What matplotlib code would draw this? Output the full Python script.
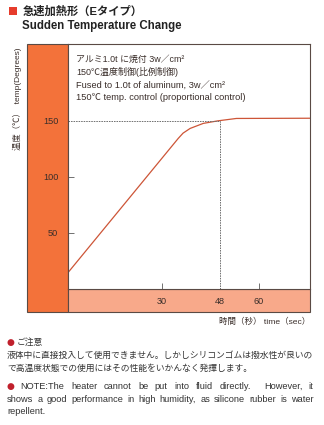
import matplotlib
matplotlib.use('Agg')
import matplotlib.pyplot as plt
from matplotlib.patches import Rectangle

# ---- data ----
time_s = [0.7, 35.0, 36.5, 38.7, 42.8, 47.4, 53.1, 76.0]
temp_c = [14.6, 134.3, 139.0, 143.2, 147.7, 150.0, 152.1, 152.3]
x_ticks = [30, 48, 60]
y_ticks = [50, 100, 150]
target_time = 48
target_temp = 150

FAM = ['Liberation Sans', 'Noto Sans CJK JP']
plt.rcParams['font.family'] = FAM

W, H = 324, 425
fig = plt.figure(figsize=(W / 100, H / 100), dpi=100)
fig.patch.set_facecolor('white')


def fx(x):
    return x / W


def fy(y):
    return 1 - y / H


EDGE = '#5a4a44'
ORANGE = '#f3723a'
SALMON = '#f8a98a'
LINE = '#cd5537'
TXT = '#3a2e2a'

# decorative frame: left orange bar and bottom band
fig.patches.append(Rectangle((fx(27), fy(312)), fx(68) - fx(27), fy(44) - fy(312),
                             transform=fig.transFigure, facecolor=ORANGE,
                             edgecolor=EDGE, lw=0.8, zorder=-1))
fig.patches.append(Rectangle((fx(68), fy(312)), fx(310) - fx(68), fy(289) - fy(312),
                             transform=fig.transFigure, facecolor=SALMON,
                             edgecolor=EDGE, lw=0.8, zorder=-1))

ax = fig.add_axes([fx(68), fy(289), (310 - 68) / W, (289 - 44) / H])
ax.set_xlim(time_s[0], time_s[-1])
ax.set_ylim(0, 218.5)
for s in ax.spines.values():
    s.set_color(EDGE)
    s.set_linewidth(0.8)

ax.plot(time_s, temp_c, color=LINE, lw=0.9, solid_joinstyle='round')
ax.plot([time_s[0], target_time], [target_temp, target_temp], color='#707070',
        lw=0.7, linestyle=(0, (1.6, 1.0)))
ax.plot([target_time, target_time], [0, target_temp], color='#707070',
        lw=0.7, linestyle=(0, (1.6, 1.0)))

ax.set_xticks(x_ticks)
ax.set_yticks(y_ticks)
ax.tick_params(axis='x', direction='in', length=4, width=0.7, color='#707070',
               pad=5.5, labelsize=6.6, labelcolor=TXT)
ax.tick_params(axis='y', direction='in', length=4, width=0.7, color='#707070',
               pad=7, labelsize=6.6, labelcolor=TXT)
ax.xaxis.get_major_ticks()[1].tick1line.set_visible(False)
ax.yaxis.get_major_ticks()[2].tick1line.set_visible(False)

# annotations inside plot
ann = ['アルミ1.0t に焼付 3w／cm²', '150℃温度制御(比例制御)',
       'Fused to 1.0t of aluminum, 3w／cm²', '150℃ temp. control (proportional control)']
ann_size = [6.4, 6.5, 6.7, 6.7]
for s, y, fs in zip(ann, [59.5, 71.5, 86.5, 97], ann_size):
    fig.text(fx(76), fy(y), s, fontsize=fs, color=TXT, va='center', ha='left')

# axis labels
fig.text(fx(17.5), fy(99), '温度（℃）  temp(Degrees)', rotation=90, fontsize=6,
         color=TXT, va='center', ha='center')
fig.text(fx(310), fy(321.7), '時間（秒） time（sec）', fontsize=6.1, color=TXT,
         va='center', ha='right')

# title
fig.patches.append(Rectangle((fx(9), fy(15.3)), fx(17) - fx(9), fy(7.3) - fy(15.3),
                             transform=fig.transFigure, facecolor='#e63c2c',
                             edgecolor='none'))
fig.text(fx(22.5), fy(11.5), '急速加熱形（Eタイプ）', fontsize=8.1, fontweight='bold',
         color='#222222', va='center', ha='left')
fig.text(fx(22.5), fy(26.5), 'Sudden Temperature Change', fontsize=8.3,
         fontweight='bold', color='#222222', va='center', ha='left')

# notes
BUL = '#c0202c'
NT = '#333333'
renderer = fig.canvas.get_renderer()


def natural_width(text, size):
    t = fig.text(0, 0, text, fontsize=size)
    w = t.get_window_extent(renderer).width
    t.remove()
    return w


def justify(text, x0, x1, y, size):
    words = text.split(' ')
    ts = [fig.text(0, fy(y), w, fontsize=size, va='center', ha='left', color=NT)
          for w in words]
    widths = [t.get_window_extent(renderer).width for t in ts]
    gap = (x1 - x0 - sum(widths)) / (len(words) - 1)
    x = x0
    for t, w in zip(ts, widths):
        t.set_x(fx(x))
        x += w + gap


line_a = 'NOTE:The heater cannot be put into fluid directly.  However, it'
line_b = 'shows a good performance in high humidity, as silicone rubber is water'
en_size = 10 * (306.5 * 0.95) / natural_width(line_b, 10)

fig.text(fx(6.5), fy(342), '●', fontsize=6.5, color=BUL, va='center', ha='left',
         family=['DejaVu Sans'])
fig.text(fx(17), fy(342), 'ご注意', fontsize=6.35, color=NT, va='center', ha='left')
fig.text(fx(7), fy(355.7), '液体中に直接投入して使用できません。しかしシリコンゴムは撥水性が良いの',
         fontsize=6.35, color=NT, va='center', ha='left')
fig.text(fx(7), fy(368.5), 'で高温度状態での使用にはその性能をいかんなく発揮します。',
         fontsize=6.35, color=NT, va='center', ha='left')
fig.text(fx(6.5), fy(386.5), '●', fontsize=6.5, color=BUL, va='center', ha='left',
         family=['DejaVu Sans'])
justify(line_a, 20.7, 313.5, 386.5, en_size)
justify(line_b, 7, 313.5, 399, en_size)
fig.text(fx(7), fy(411.5), 'repellent.', fontsize=en_size, color=NT, va='center', ha='left')

fig.savefig('out.png', dpi=100)
